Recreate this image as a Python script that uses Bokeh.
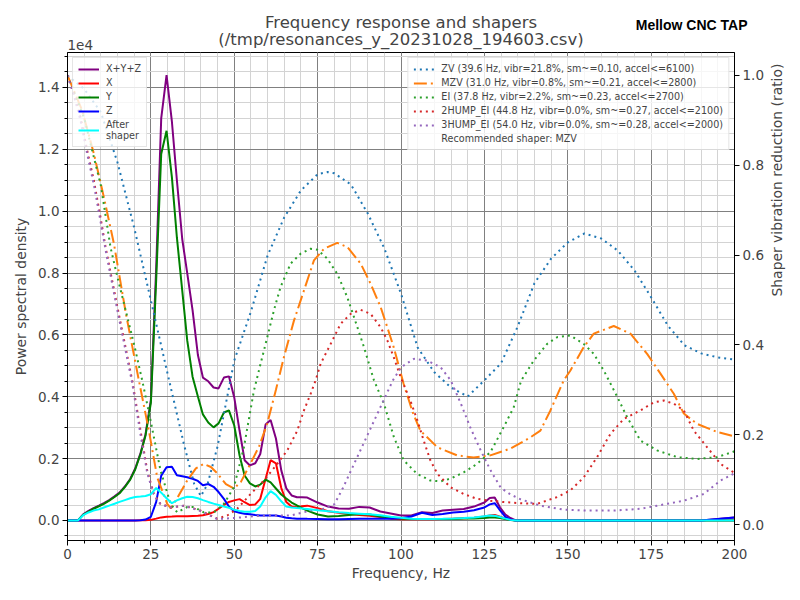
import math
from bokeh.plotting import figure
from bokeh.models import (Range1d, LinearAxis, Legend, LegendItem, Label, Title,
                          SingleIntervalTicker, CustomJSTickFormatter)
from bokeh.embed import file_html
from bokeh.resources import INLINE

FONT = "DejaVu Sans"

title_lines = ["Frequency response and shapers", "(/tmp/resonances_y_20231028_194603.csv)"]
brand = "Mellow CNC TAP"
x_label = "Frequency, Hz"
y_label = "Power spectral density"
y2_label = "Shaper vibration reduction (ratio)"
offset_text = "1e4"

# ---- PSD data (frequency bins, Hz) ----
psd_freqs = [0, 3.1, 4.7, 6.3, 7.8, 9.4, 10.9, 12.5, 14.1, 15.6,
             17.2, 18.8, 20.3, 21.9, 23.4, 25.0, 26.6, 28.1, 29.7, 31.3,
             32.8, 34.4, 35.9, 37.5, 39.1, 40.6, 42.2, 43.8, 45.3, 46.9,
             48.4, 50.0, 51.6, 53.1, 54.7, 56.3, 57.8, 59.4, 60.9, 62.5,
             64.1, 65.6, 67.2, 68.8, 70.3, 71.9, 75.0, 78.1, 81.3, 84.4,
             87.5, 90.6, 93.8, 96.9, 100.0, 103.1, 106.3, 109.4, 112.5, 115.6,
             118.8, 121.9, 125.0, 126.6, 128.1, 129.7, 131.3, 132.8, 134.4, 137.5,
             150.0, 175.0, 190.0, 195.0, 200.0]

psd_xyz = [0, 0, 200, 310, 400, 480, 560, 660, 780, 900,
           1100, 1340, 1680, 2180, 2790, 3900, 8200, 13000, 14400, 12900,
           11000, 9100, 8000, 6800, 5350, 4620, 4500, 4300, 4270, 4620,
           4660, 3980, 2900, 1950, 1780, 1850, 2150, 3100, 3250, 2650,
           1620, 1040, 810, 750, 750, 740, 580, 450, 390, 380,
           440, 420, 290, 225, 160, 160, 270, 240, 320, 345,
           370, 450, 580, 730, 745, 420, 190, 80, 0, 0,
           0, 0, 0, 50, 100]

psd_x = [0, 0, 0, 0, 0, 0, 0, 0, 0, 0,
         0, 0, 0, 5, 10, 20, 60, 100, 120, 130,
         140, 140, 140, 145, 150, 170, 210, 270, 380, 500,
         600, 650, 690, 590, 500, 520, 700, 1350, 1950, 1850,
         1050, 600, 450, 430, 460, 480, 400, 300, 250, 210,
         180, 150, 110, 60, 40, 40, 40, 40, 50, 60,
         70, 90, 130, 160, 180, 120, 60, 20, 0, 0,
         0, 0, 0, 0, 0]

psd_y = [0, 0, 180, 290, 380, 460, 540, 640, 760, 880,
         1080, 1320, 1650, 2150, 2750, 3800, 7800, 11850, 12600, 11100,
         9150, 7440, 5820, 4650, 4010, 3430, 3170, 3010, 3140, 3490,
         3560, 3070, 2100, 1455, 1200, 1100, 1160, 1320, 1230, 1035,
         840, 710, 580, 485, 400, 320, 195, 130, 145, 180,
         210, 195, 130, 80, 65, 50, 50, 50, 50, 50,
         65, 65, 80, 100, 100, 80, 50, 15, 0, 0,
         0, 0, 0, 0, 0]

psd_z = [0, 0, 0, 0, 0, 0, 0, 0, 0, 0,
         0, 0, 0, 10, 30, 120, 600, 1450, 1720, 1740,
         1460, 1430, 1400, 1350, 1280, 1140, 1180, 1090, 920, 700,
         450, 300, 250, 220, 200, 180, 165, 160, 160, 160,
         130, 90, 70, 60, 60, 55, 50, 40, 40, 50,
         55, 60, 60, 60, 70, 130, 250, 180, 210, 260,
         280, 330, 420, 520, 560, 330, 120, 30, 0, 0,
         0, 0, 0, 50, 100]

psd_after = [0, 0, 170, 260, 320, 360, 420, 480, 540, 600,
             660, 720, 760, 775, 790, 850, 1050, 900, 720, 560,
             650, 720, 770, 760, 720, 660, 600, 545, 500, 450,
             410, 350, 310, 280, 280, 310, 450, 750, 950, 830,
             620, 450, 420, 400, 390, 375, 330, 300, 265, 240,
             220, 200, 170, 120, 90, 60, 50, 50, 55, 65,
             80, 100, 140, 160, 150, 110, 60, 20, 0, 0,
             0, 0, 0, 0, 0]

# ---- Shaper responses (ratio) ----
zv_freqs = [0, 5, 10, 15, 20, 25, 30, 35, 38, 40, 42, 45, 50, 55, 60, 65, 70, 75, 78, 80,
            85, 90, 95, 100, 105, 110, 115, 120, 125, 130, 135, 140, 145, 150, 155, 160,
            165, 170, 175, 180, 185, 190, 195, 200]
zv_vals = [1.0, 0.97, 0.918, 0.806, 0.661, 0.499, 0.336, 0.176, 0.09, 0.063, 0.09, 0.174,
           0.365, 0.474, 0.599, 0.684, 0.744, 0.78, 0.785, 0.782, 0.757, 0.693, 0.615, 0.514,
           0.394, 0.339, 0.305, 0.285, 0.321, 0.359, 0.441, 0.537, 0.592, 0.628, 0.648, 0.637,
           0.61, 0.566, 0.506, 0.443, 0.399, 0.381, 0.372, 0.367]

mzv_freqs = [0, 4.4, 7.9, 10.9, 13.9, 17.5, 21.4, 24.4, 26.9, 29.9, 31, 33, 35.9, 38.5, 40.9,
             43, 44.9, 47.5, 49.9, 52, 54.9, 57.5, 59.9, 62.5, 64.9, 67.9, 70.9, 73.9, 76.9,
             80.9, 83.9, 87.9, 90.9, 93.9, 95.9, 97.8, 100.8, 103.5, 105.8, 110.9, 116.8,
             121.8, 126.8, 132.8, 138.8, 141.8, 144.8, 148.8, 150.8, 154.8, 157.8, 163.8,
             168.8, 173.8, 177.8, 181.8, 184.8, 188.8, 194.8, 200]
mzv_vals = [1.0, 0.922, 0.826, 0.729, 0.626, 0.47, 0.321, 0.209, 0.105, 0.046, 0.036, 0.06,
            0.098, 0.125, 0.135, 0.128, 0.114, 0.09, 0.08, 0.095, 0.136, 0.175, 0.225, 0.3,
            0.373, 0.454, 0.521, 0.588, 0.614, 0.627, 0.618, 0.581, 0.536, 0.484, 0.439,
            0.395, 0.313, 0.25, 0.209, 0.172, 0.154, 0.149, 0.154, 0.169, 0.194, 0.209,
            0.254, 0.321, 0.343, 0.395, 0.425, 0.442, 0.425, 0.38, 0.336, 0.291, 0.247,
            0.224, 0.206, 0.196]

ei_freqs = [0, 5, 10, 12.9, 15, 20, 22.4, 24.9, 27.9, 30.9, 32.9, 35.9, 37.9, 40.9, 43.9,
            46.9, 49.9, 52.9, 55.9, 57.9, 59.9, 61.9, 63.9, 66.9, 69.9, 72.9, 74.9, 77.9,
            80.9, 83.9, 85.9, 88.9, 91.9, 94.9, 97.9, 100.8, 104.8, 108.8, 111.8, 114.8,
            118.8, 122.8, 126.8, 130.8, 133.8, 136, 139.8, 143.8, 146.8, 150.8, 154.8,
            157.8, 160.8, 164.8, 167.8, 171.8, 176.8, 182.8, 188.8, 194.8, 200]
ei_vals = [1.0, 0.905, 0.755, 0.617, 0.55, 0.4, 0.321, 0.232, 0.12, 0.046, 0.027, 0.039,
           0.039, 0.027, 0.027, 0.046, 0.083, 0.172, 0.298, 0.358, 0.417, 0.477, 0.529,
           0.581, 0.603, 0.614, 0.612, 0.592, 0.558, 0.506, 0.462, 0.395, 0.321, 0.269,
           0.194, 0.143, 0.113, 0.098, 0.096, 0.102, 0.116, 0.135, 0.161, 0.217, 0.261,
           0.32, 0.365, 0.402, 0.417, 0.421, 0.402, 0.38, 0.343, 0.285, 0.239, 0.187,
           0.165, 0.15, 0.146, 0.15, 0.163]

hump2_freqs = [0, 1.9, 3.9, 5.9, 7.9, 9.9, 11.4, 15, 19.4, 21.9, 23.9, 25.9, 27.9, 30.9,
               34.9, 39.9, 44.9, 47.9, 50.9, 54.9, 58.9, 62.9, 65.9, 68.9, 70.9, 72.9,
               74.4, 75.9, 78.9, 81.9, 84.9, 87.9, 90.9, 93.9, 95.9, 97.8, 99.9, 102.8,
               104.9, 106.8, 108.8, 110.9, 114.8, 118.8, 122.8, 126.8, 130.8, 136.8,
               140.8, 146.8, 150.8, 154.8, 158.8, 162.8, 166.8, 171.8, 175.8, 178.8,
               181.8, 184.8, 187.8, 191.8, 195.8, 200]
hump2_vals = [1.0, 0.959, 0.907, 0.833, 0.766, 0.684, 0.618, 0.483, 0.321, 0.209, 0.12,
              0.068, 0.046, 0.038, 0.042, 0.031, 0.013, 0.02, 0.035, 0.068, 0.098, 0.135,
              0.165, 0.209, 0.254, 0.291, 0.321, 0.358, 0.402, 0.447, 0.469, 0.478, 0.469,
              0.439, 0.41, 0.373, 0.328, 0.276, 0.232, 0.187, 0.143, 0.113, 0.083, 0.068,
              0.057, 0.053, 0.05, 0.047, 0.046, 0.061, 0.076, 0.105, 0.15, 0.202, 0.235,
              0.254, 0.272, 0.276, 0.269, 0.254, 0.209, 0.172, 0.135, 0.115]

hump3_freqs = [0, 1.9, 3.9, 5.9, 7.9, 9.9, 11.4, 15, 19.4, 21.9, 23.9, 25.9, 27.9, 30.9,
               34.9, 39.9, 44.9, 50.9, 55, 60, 66.9, 72.9, 77, 80, 82.5, 85, 87.5, 90,
               92.5, 95, 97.5, 100, 103.9, 107.9, 111.9, 114.9, 117.9, 120.9, 123.9,
               126.9, 129.9, 132.8, 135.9, 141.8, 148.8, 155.8, 163.8, 171.8, 179.8,
               184.8, 190.8, 195.8, 200]
hump3_vals = [1.0, 0.955, 0.9, 0.825, 0.757, 0.675, 0.612, 0.475, 0.315, 0.2, 0.115, 0.065,
              0.045, 0.038, 0.042, 0.03, 0.012, 0.015, 0.018, 0.02, 0.02, 0.031, 0.035,
              0.045, 0.08, 0.12, 0.16, 0.2, 0.24, 0.28, 0.32, 0.35, 0.369, 0.365, 0.35,
              0.321, 0.27, 0.214, 0.165, 0.12, 0.082, 0.067, 0.056, 0.042, 0.033, 0.031,
              0.031, 0.035, 0.046, 0.053, 0.068, 0.098, 0.114]

psd_series = [("X+Y+Z", psd_xyz, "#800080"), ("X", psd_x, "#ff0000"),
              ("Y", psd_y, "#008000"), ("Z", psd_z, "#0000ff")]
shaper_series = [
    ("ZV (39.6 Hz, vibr=21.8%, sm~=0.10, accel<=6100)", zv_freqs, zv_vals, "#1f77b4", "2 4"),
    ("MZV (31.0 Hz, vibr=0.8%, sm~=0.21, accel<=2800)", mzv_freqs, mzv_vals, "#ff7f0e", "13 4 2 4"),
    ("EI (37.8 Hz, vibr=2.2%, sm~=0.23, accel<=2700)", ei_freqs, ei_vals, "#2ca02c", "2 4"),
    ("2HUMP_EI (44.8 Hz, vibr=0.0%, sm~=0.27, accel<=2100)", hump2_freqs, hump2_vals, "#d62728", "2 4"),
    ("3HUMP_EI (54.0 Hz, vibr=0.0%, sm~=0.28, accel<=2000)", hump3_freqs, hump3_vals, "#9467bd", "2 4"),
]
recommended = "Recommended shaper: MZV"

p = figure(width=800, height=600, output_backend="svg", toolbar_location=None,
           title=None, x_range=Range1d(0, 200), y_range=Range1d(-647, 15130),
           min_border_left=67, min_border_right=66, min_border_top=52, min_border_bottom=60)
p.extra_y_ranges = {"ratio": Range1d(-0.0356, 1.051)}

# title rows (first added sits closest to the frame)
p.add_layout(Title(text=title_lines[1], align="center", vertical_align="middle",
                   text_font=FONT, text_font_size="16.5px", text_font_style="normal",
                   standoff=6), "above")
p.add_layout(Title(text=title_lines[0], align="center", vertical_align="middle",
                   text_font=FONT, text_font_size="16.5px", text_font_style="normal",
                   standoff=-15), "above")

p.outline_line_color = "black"
p.outline_line_width = 1

# grids
for g in (p.xgrid, p.ygrid):
    g.grid_line_color = "#808080"
    g.grid_line_width = 1
    g.minor_grid_line_color = "#d3d3d3"
    g.minor_grid_line_width = 1

p.xaxis.ticker = SingleIntervalTicker(interval=25, num_minor_ticks=5)
p.yaxis.ticker = SingleIntervalTicker(interval=2000, num_minor_ticks=4)
p.xgrid.ticker = p.xaxis.ticker
p.ygrid.ticker = p.yaxis.ticker
p.yaxis.formatter = CustomJSTickFormatter(code="return (tick/1e4).toFixed(1);")
p.xaxis.axis_label = x_label
p.yaxis.axis_label = y_label

y2 = LinearAxis(y_range_name="ratio", axis_label=y2_label,
                ticker=SingleIntervalTicker(interval=0.2, num_minor_ticks=0),
                formatter=CustomJSTickFormatter(code="return tick.toFixed(1);"))
p.add_layout(y2, "right")

for ax in (p.xaxis[0], p.yaxis[0], y2):
    ax.axis_line_color = "black"
    ax.major_tick_in = 0
    ax.major_tick_out = 5
    ax.minor_tick_in = 0
    ax.minor_tick_out = 3
    ax.major_label_text_font = FONT
    ax.major_label_text_font_size = "13.5px"
    ax.axis_label_text_font = FONT
    ax.axis_label_text_font_size = "13.9px"
    ax.axis_label_text_font_style = "normal"
    ax.major_label_standoff = 3
    ax.axis_label_standoff = 6
p.xaxis[0].major_label_standoff = 3
p.xaxis[0].axis_label_standoff = 3
y2.axis_label_orientation = math.pi / 2
y2.axis_label_standoff = 10

# PSD lines
psd_items = []
for name, vals, color in psd_series:
    r = p.line(psd_freqs, vals, line_color=color, line_width=2)
    psd_items.append(LegendItem(label=name, renderers=[r]))

# shaper lines
shaper_items = []
for name, fr, vals, color, dash in shaper_series:
    r = p.line(fr, vals, line_color=color, line_width=2, line_dash=dash, y_range_name="ratio")
    shaper_items.append(LegendItem(label=name, renderers=[r]))

r_after = p.line(psd_freqs, psd_after, line_color="#00ffff", line_width=2)
psd_items.append(LegendItem(label="After\nshaper", renderers=[r_after]))

r_rec = p.line([], [], line_alpha=0, y_range_name="ratio")
shaper_items.append(LegendItem(label=recommended, renderers=[r_rec]))

def style_legend(leg):
    leg.label_text_font = FONT
    leg.label_text_font_size = "9.6px"
    leg.glyph_width = 21
    leg.glyph_height = 10
    leg.label_height = 10
    leg.spacing = 3
    leg.padding = 5
    leg.margin = 5
    leg.label_standoff = 7
    leg.border_line_color = "#cccccc"
    leg.border_line_width = 1
    leg.background_fill_alpha = 0.8

leg1 = Legend(items=psd_items, location="top_left")
style_legend(leg1)
p.add_layout(leg1)
leg2 = Legend(items=shaper_items, location="top_right")
style_legend(leg2)
p.add_layout(leg2)

# texts outside the frame: placed in side panels so they are not clipped
p.add_layout(Label(x=67, y=44, x_units="canvas", y_units="canvas", text=offset_text,
                   text_font=FONT, text_font_size="13.5px", text_baseline="middle",
                   text_align="left"), "above")
p.add_layout(Label(x=747, y=24, x_units="canvas", y_units="canvas", text=brand,
                   text_font="Liberation Sans", text_font_size="14px", text_font_style="bold",
                   text_color="black", text_baseline="middle", text_align="right"), "below")

open("out.html", "w").write(file_html(p, INLINE))
